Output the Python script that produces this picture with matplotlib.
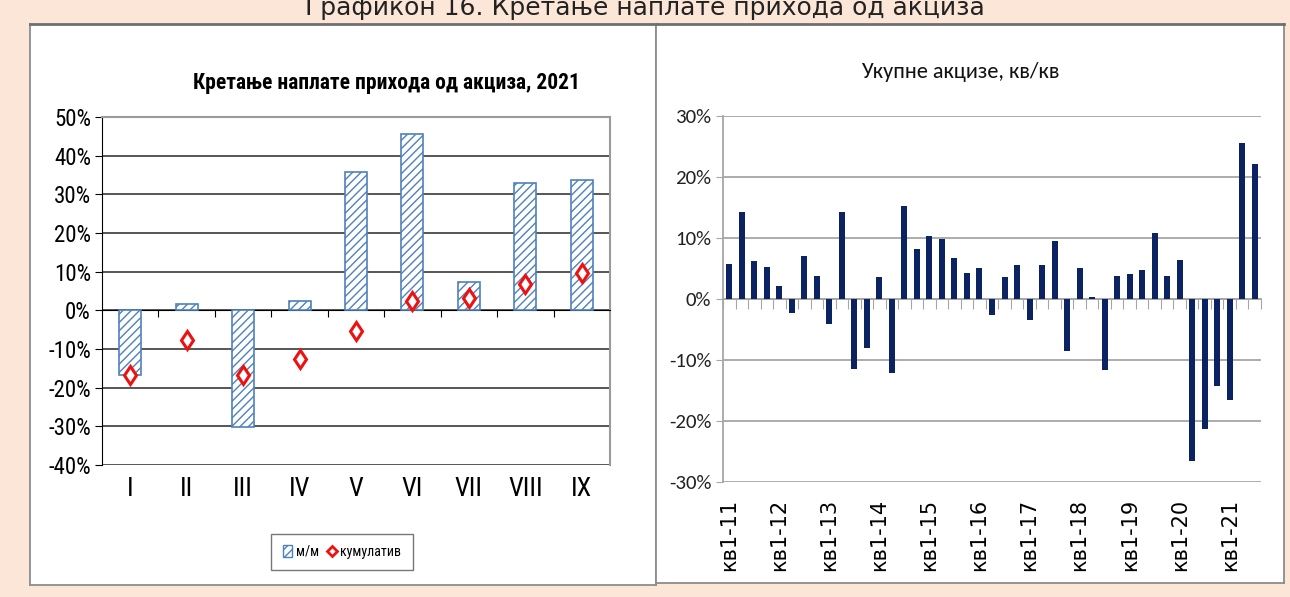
import numpy as np
import matplotlib
matplotlib.use('Agg')
import matplotlib.pyplot as plt
from matplotlib.ticker import FuncFormatter, MultipleLocator
from matplotlib.lines import Line2D
from matplotlib.patches import Patch

# ---- data ----
months = ['I', 'II', 'III', 'IV', 'V', 'VI', 'VII', 'VIII', 'IX']
mm_change = [-16.6, 1.7, -30.2, 2.4, 35.8, 45.6, 7.3, 32.9, 33.6]
cumulative = [-16.8, -7.8, -16.8, -12.6, -5.4, 2.4, 3.3, 6.8, 9.7]

# quarterly excise growth, q/q, Q1-2011 .. Q3-2021
qq_change = [5.7, 14.3, 6.2, 5.3, 2.1, -2.3, 7.0, 3.8, -4.1, 14.2,
             -11.5, -8.1, 3.6, -12.2, 15.2, 8.2, 10.3, 9.9, 6.8, 4.2,
             5.1, -2.6, 3.6, 5.5, -3.4, 5.5, 9.5, -8.6, 5.1, 0.3,
             -11.7, 3.8, 4.1, 4.7, 10.8, 3.8, 6.4, -26.5, -21.3, -14.2,
             -16.5, 25.5, 22.1]
q_labels = ['кв1-11', 'кв1-12', 'кв1-13', 'кв1-14', 'кв1-15', 'кв1-16',
            'кв1-17', 'кв1-18', 'кв1-19', 'кв1-20', 'кв1-21']

W, H = 1290, 597
BG = '#fbe6d8'
NARROW = ['Roboto Condensed', 'DejaVu Sans']
CAL = ['Carlito', 'DejaVu Sans']


def box(x0, y0, x1, y1):
    # pixel box (top-left origin) -> figure fractions
    return [x0 / W, 1 - y1 / H, (x1 - x0) / W, (y1 - y0) / H]


fig = plt.figure(figsize=(W / 100, H / 100), dpi=100, facecolor=BG)

fig.text(0.5, 1 - 15 / H, 'Графикон 16. Кретање наплате прихода од акциза',
         ha='center', va='baseline', fontsize=18, family=['DejaVu Sans'],
         color='#222222')

# white panels
for rect in (box(30, 24, 656, 585), box(656, 24, 1284, 583)):
    bg = fig.add_axes(rect, zorder=0)
    bg.set_facecolor('white')
    bg.set_xticks([])
    bg.set_yticks([])
    for s in bg.spines.values():
        s.set_color('#8c8c8c')
        s.set_linewidth(1.3)
    bg.spines['top'].set_color('#6f6f6f')
    bg.spines['top'].set_linewidth(2)

# ---- left chart ----
ax1 = fig.add_axes(box(102, 117, 610, 465), zorder=2)
ax1.patch.set_alpha(0)
x1 = np.arange(len(months))
ax1.bar(x1, mm_change, width=0.39, color='white', edgecolor='#4f81bd',
        hatch='////', linewidth=1.2, zorder=3)
ax1.plot(x1, cumulative, linestyle='none', marker='d', markersize=9.5,
         markerfacecolor='white', markeredgecolor='#ee1111',
         markeredgewidth=2.2, zorder=4)
ax1.set_ylim(-40, 50)
ax1.set_xlim(-0.5, len(months) - 0.5)
ax1.yaxis.set_major_locator(MultipleLocator(10))
ax1.yaxis.set_major_formatter(FuncFormatter(lambda v, p: f'{v:.0f}%'))
ax1.grid(axis='y', color='#3a3a3a', linewidth=1.2)
ax1.set_axisbelow(True)
ax1.spines['top'].set_color('#9a9a9a')
ax1.spines['right'].set_color('#9a9a9a')
ax1.spines['top'].set_linewidth(1.5)
ax1.spines['right'].set_linewidth(1.5)
ax1.spines['left'].set_color('black')
ax1.spines['bottom'].set_position(('data', 0))
ax1.spines['bottom'].set_color('black')
ax1.set_xticks(x1[:-1] + 0.5)
ax1.set_xticklabels([])
ax1.tick_params(axis='x', which='major', length=5, direction='out', color='black')
pad1 = 348 / 100 * (0 - (-40)) / 90 * 72 + 9
ax1.set_xticks(x1, minor=True)
ax1.set_xticklabels(months, minor=True, fontsize=19, family=NARROW)
ax1.tick_params(axis='x', which='minor', length=0, pad=pad1)
ax1.tick_params(axis='y', length=5, color='black', labelsize=16.5, pad=3)
for t in ax1.get_yticklabels():
    t.set_family(NARROW)
ax1.set_title('Кретање наплате прихода од акциза, 2021', fontsize=15.5,
              fontweight='bold', family=NARROW, pad=20, x=0.56)

handles = [Patch(facecolor='white', edgecolor='#4f81bd', hatch='////', label='м/м'),
           Line2D([], [], linestyle='none', marker='D', markersize=5.5,
                  markerfacecolor='white', markeredgecolor='#ee1111',
                  markeredgewidth=2, label='кумулатив')]
fig.legend(handles=handles, loc='center', ncol=2,
           bbox_to_anchor=(342 / W, 1 - 552 / H), frameon=True, fancybox=False,
           edgecolor='#555555', prop={'family': NARROW, 'size': 10},
           handlelength=0.7, handleheight=0.9, handletextpad=0.25,
           columnspacing=0.6, borderpad=0.8, borderaxespad=0)

# ---- right chart ----
ax2 = fig.add_axes(box(723, 116, 1261, 482), zorder=2)
ax2.patch.set_alpha(0)
x2 = np.arange(len(qq_change))
ax2.bar(x2, qq_change, width=0.48, color='#0b2363', zorder=3)
ax2.set_ylim(-30, 30)
ax2.set_xlim(-0.5, len(qq_change) - 0.5)
ax2.yaxis.set_major_locator(MultipleLocator(10))
ax2.yaxis.set_major_formatter(FuncFormatter(lambda v, p: f'{v:.0f}%'))
ax2.grid(axis='y', color='#a6a6a6', linewidth=1.3)
ax2.set_axisbelow(True)
ax2.spines['top'].set_visible(False)
ax2.spines['right'].set_visible(False)
ax2.spines['left'].set_color('#a6a6a6')
ax2.spines['left'].set_linewidth(1.3)
ax2.spines['bottom'].set_position(('data', 0))
ax2.spines['bottom'].set_color('#a6a6a6')
ax2.spines['bottom'].set_linewidth(1.3)
ax2.set_xticks(np.arange(-0.5, len(qq_change), 1.0))
ax2.set_xticklabels([])
ax2.tick_params(axis='x', which='major', length=7, direction='out', color='#a6a6a6')
pad2 = 366 / 100 * 0.5 * 72 + 12
ax2.set_xticks(x2[::4], minor=True)
ax2.set_xticklabels(q_labels, minor=True, rotation=90, fontsize=15,
                    family=['DejaVu Sans'])
ax2.tick_params(axis='x', which='minor', length=0, pad=pad2)
ax2.tick_params(axis='y', length=5, color='#a6a6a6', labelsize=15,
                labelcolor='#222222')
for t in ax2.get_yticklabels():
    t.set_family(CAL)
ax2.set_title('Укупне акцизе, кв/кв', fontsize=16, family=CAL, pad=27,
              color='#111111', x=0.44)

fig.savefig('out.png', dpi=100, facecolor=BG)
